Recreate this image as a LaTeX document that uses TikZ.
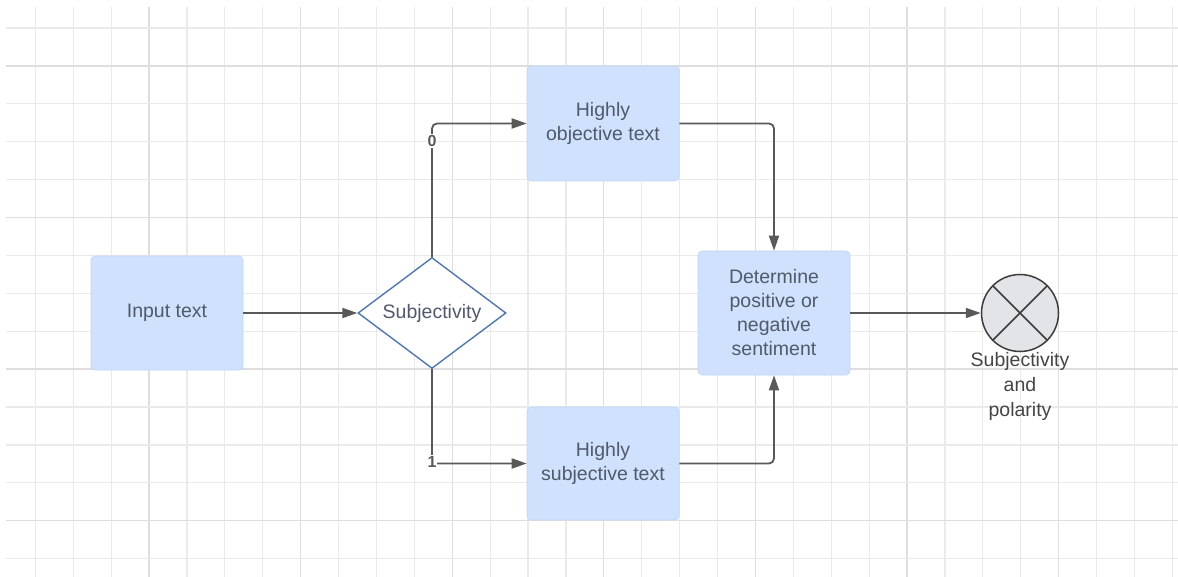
\documentclass[tikz,border=0pt]{standalone}
\usepackage{fontspec}
\setmainfont{Liberation Sans}
\usetikzlibrary{shapes.geometric,arrows.meta}
\definecolor{gridminor}{HTML}{EAEAEA}
\definecolor{gridmajor}{HTML}{DEDEDE}
\definecolor{boxfill}{HTML}{CFE1FC}
\definecolor{boxline}{HTML}{C3D6F3}
\definecolor{boxtext}{HTML}{505A6A}
\definecolor{linecol}{HTML}{595959}
\definecolor{diaedge}{HTML}{5478AE}
\definecolor{circfill}{HTML}{E2E4E8}
\definecolor{circedge}{HTML}{3C3C3C}
\definecolor{labtext}{HTML}{454545}
\tikzset{
  procbox/.style={rectangle, rounded corners=4pt, fill=boxfill, draw=boxline, line width=0.6pt,
    minimum width=152pt, minimum height=114pt, inner sep=0pt, align=center, text=boxtext,
    font=\fontsize{19.5}{24}\selectfont},
  decision/.style={diamond, shape aspect=1.33, draw=diaedge, fill=white, line width=1.4pt,
    minimum width=148pt, minimum height=111pt, inner sep=0pt, text=boxtext,
    font=\fontsize{19.5}{24}\selectfont},
  conn/.style={draw=linecol, line width=1.8pt, -{Triangle[length=15pt,width=10pt]}, rounded corners=5pt},
  branchlab/.style={fill=white, inner sep=1pt, text=linecol, font=\fontsize{16}{18}\selectfont\bfseries},
}
\begin{document}
\begin{tikzpicture}[x=1pt,y=-1pt]
\useasboundingbox (0,0) rectangle (1178,577);
\fill[white] (0,0) rectangle (1178,577);
% grid
\foreach \k in {0,...,30}{
  \pgfmathsetmacro{\gx}{35.3+37.9*\k}
  \pgfmathtruncatemacro{\m}{mod(\k,4)}
  \ifnum\m=3
    \draw[gridmajor, line width=1.3pt] (\gx,7) -- (\gx,577);
  \else
    \draw[gridminor, line width=1.2pt] (\gx,7) -- (\gx,577);
  \fi
}
\foreach \j in {0,...,14}{
  \pgfmathsetmacro{\gy}{28+37.9*\j}
  \pgfmathtruncatemacro{\m}{mod(\j,4)}
  \ifnum\m=1
    \draw[gridmajor, line width=1.3pt] (6,\gy) -- (1178,\gy);
  \else
    \draw[gridminor, line width=1.2pt] (6,\gy) -- (1178,\gy);
  \fi
}
% nodes
\node[procbox] (in) at (167,313) {Input text};
\node[decision] (dia) at (432,313) {Subjectivity};
\node[procbox, minimum height=115pt] (obj) at (603,123.5) {Highly\\objective text};
\node[procbox, minimum height=113pt] (subj) at (603,463.5) {Highly\\subjective text};
\node[procbox, minimum height=124pt] (det) at (774,313) {Determine\\positive or\\negative\\sentiment};
\node[circle, fill=circfill, draw=circedge, line width=1.5pt, minimum size=77pt, inner sep=0pt] (circ) at (1020,313) {};
\draw[circedge, line width=1.5pt] (circ.45) -- (circ.225) (circ.135) -- (circ.-45);
\node[align=center, text=labtext, inner sep=0pt, font=\fontsize{19.5}{25}\selectfont] (res) at (1020,386) {Subjectivity\\and\\polarity};
% connectors
\draw[conn] (in.east) -- (dia.west);
\draw[conn] (dia.north) |- (obj.west);
\draw[conn] (dia.south) |- (subj.west);
\draw[conn] (obj.east) -| (det.north);
\draw[conn] (subj.east) -| (det.south);
\draw[conn] (det.east) -- (circ.west);
% branch labels
\node[branchlab] (l0) at (432,141) {0};
\node[branchlab] (l1) at (432,462) {1};
\end{tikzpicture}
\end{document}
